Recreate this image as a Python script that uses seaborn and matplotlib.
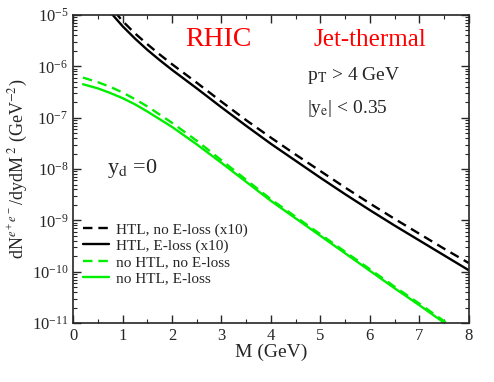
import numpy as np
import pandas as pd
import seaborn as sns
import matplotlib.pyplot as plt
from matplotlib.ticker import MultipleLocator, LogLocator

# masses (GeV) and log10 of the yields
m_black = [0.5, 0.6, 0.8, 1.0, 1.25, 1.5, 1.75, 2.0, 2.5, 3.0, 3.5, 4.0, 4.5, 5.0, 5.5, 6.0, 6.5, 7.0, 7.5, 8.0]
htl_noeloss = [-4.42, -4.60, -4.89, -5.12, -5.36, -5.57, -5.77, -5.96, -6.32, -6.69, -7.05, -7.39, -7.72, -8.04, -8.36, -8.67, -8.97, -9.26, -9.55, -9.83]
htl_eloss = [-4.52, -4.70, -5.00, -5.22, -5.46, -5.68, -5.88, -6.07, -6.43, -6.80, -7.16, -7.51, -7.84, -8.17, -8.49, -8.80, -9.10, -9.39, -9.68, -9.97]

m_green = [0.2, 0.5, 0.75, 1.0, 1.25, 1.5, 1.75, 2.0, 2.5, 3.0, 3.5, 4.0, 4.5, 5.0, 5.5, 6.0, 6.5, 7.0, 7.5, 8.0]
nohtl_noeloss = [-6.22, -6.31, -6.40, -6.51, -6.64, -6.78, -6.94, -7.10, -7.45, -7.83, -8.21, -8.59, -8.93, -9.27, -9.61, -9.95, -10.29, -10.62, -10.96, -11.30]
nohtl_eloss = [-6.35, -6.43, -6.52, -6.62, -6.74, -6.88, -7.03, -7.18, -7.52, -7.88, -8.25, -8.62, -8.96, -9.30, -9.64, -9.98, -10.32, -10.65, -10.99, -11.33]

labels = ["HTL, no E-loss (x10)", "HTL, E-loss (x10)", "no HTL, no E-loss", "no HTL, E-loss"]

sns.set_style("ticks")
plt.rcParams['font.family'] = ['Liberation Serif', 'DejaVu Serif']
plt.rcParams['mathtext.fontset'] = 'stix'

fig = plt.figure(figsize=(4.94, 3.82), dpi=100)
ax = fig.add_axes([0.148, 0.154, 0.801, 0.807])

series = [
    (m_black, htl_noeloss, 'black', (0, (4, 2.5))),
    (m_black, htl_eloss, 'black', '-'),
    (m_green, nohtl_noeloss, '#00ee00', (0, (4, 2.5))),
    (m_green, nohtl_eloss, '#00ee00', '-'),
]
for (m, logy, col, ls), lab in zip(series, labels):
    df = pd.DataFrame({'M': m, 'y': 10.0 ** np.array(logy)})
    sns.lineplot(data=df, x='M', y='y', ax=ax, color=col, linestyle=ls,
                 linewidth=1.7, label=lab)

ax.set_yscale('log')
ax.set_xlim(0, 8)
ax.set_ylim(1e-11, 1e-5)
ax.xaxis.set_major_locator(MultipleLocator(1))
ax.xaxis.set_minor_locator(MultipleLocator(0.5))
ax.yaxis.set_major_locator(LogLocator(base=10, numticks=20))
ax.yaxis.set_minor_locator(LogLocator(base=10, subs=np.arange(2, 10), numticks=20))
ax.tick_params(which='both', direction='in', top=True, right=True, labelsize=12)
ax.tick_params(which='major', length=6, width=1)
ax.tick_params(which='minor', length=3, width=0.8)
for s in ax.spines.values():
    s.set_linewidth(1.2)

ax.set_xlabel('M (GeV)', fontsize=14, labelpad=0)
ax.set_ylabel(r'dN$^{e^+e^-}$/dydM$^{\ 2}$ (GeV$^{-2}$)', fontsize=13, labelpad=2)

ax.text(0.366, 0.92, 'RHIC', color='red', fontsize=20, ha='center', va='center', transform=ax.transAxes)
ax.text(0.75, 0.92, 'Jet-thermal', color='red', fontsize=18, ha='center', va='center', transform=ax.transAxes)
ax.text(0.59, 0.805, r'p$_\mathrm{T}$ > 4 GeV', fontsize=14, ha='left', va='center', transform=ax.transAxes)
ax.text(0.59, 0.695, r'|y$_\mathrm{e}$| < 0.35', fontsize=14, ha='left', va='center', transform=ax.transAxes)
ax.text(0.086, 0.503, r'y$_\mathrm{d}$ =0', fontsize=16, ha='left', va='center', transform=ax.transAxes)

ax.legend(loc='upper left', bbox_to_anchor=(0.005, 0.35), frameon=False, fontsize=11,
          handlelength=1.75, handletextpad=0.45, labelspacing=0.15, borderaxespad=0.1)

fig.savefig('out.png', dpi=100)
